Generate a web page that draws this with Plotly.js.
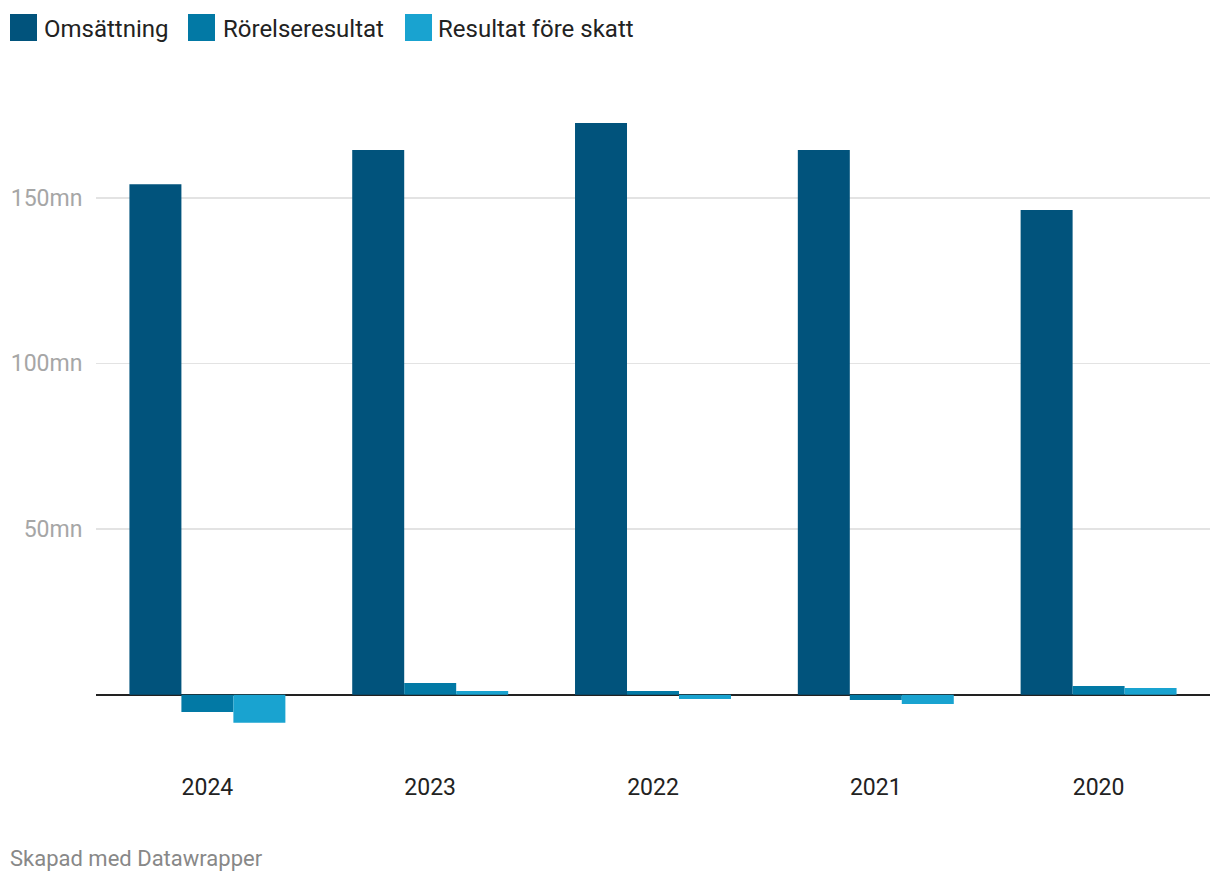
<!DOCTYPE html>
<html>
<head>
<meta charset="utf-8">
<script src="https://cdn.plot.ly/plotly-3.0.1.min.js"></script>
<style>html,body{margin:0;padding:0;background:#fff;}#chart{width:1220px;height:882px;}</style>
</head>
<body>
<div id="chart"></div>
<script>
const years = ['2024', '2023', '2022', '2021', '2020'];
const omsattning = [154.1, 164.4, 172.6, 164.4, 146.3];
const rorelseresultat = [-5.2, 3.5, 1.1, -1.6, 2.6];
const resultatForeSkatt = [-8.5, 1.1, -1.3, -2.8, 2.0];
const seriesNames = ['Omsättning', 'Rörelseresultat', 'Resultat före skatt'];
const colors = ['#01537c', '#0279a5', '#19a3d0'];
const tickVals = [50, 100, 150];
const tickText = ['50mn', '100mn', '150mn'];

const seriesValues = [omsattning, rorelseresultat, resultatForeSkatt];
const traces = seriesValues.map((vals, i) => ({
  type: 'bar', x: years, y: vals, name: seriesNames[i],
  marker: {color: colors[i], line: {width: 0}},
  hoverinfo: 'x+y', showlegend: false
}));

const L = 96, W = 1114, T = 110, H = 630;
const px = x => (x - L) / W;
const py = y => 1 - (y - T) / H;

// legend (custom, pixel-positioned)
const legendItems = [
  {sq: 10, tx: 42},
  {sq: 188, tx: 221},
  {sq: 405, tx: 436}
];
const shapes = legendItems.map((it, i) => ({
  type: 'rect', xref: 'paper', yref: 'paper',
  x0: px(it.sq), x1: px(it.sq + 27), y0: py(41), y1: py(14),
  fillcolor: colors[i], line: {width: 0}
}));
const annotations = legendItems.map((it, i) => ({
  xref: 'paper', yref: 'paper', x: px(it.tx), y: py(29),
  xanchor: 'left', yanchor: 'middle', showarrow: false,
  text: seriesNames[i], font: {family: 'Roboto', size: 24, color: '#222'}
}));
annotations.push({
  xref: 'paper', yref: 'paper', x: px(8), y: py(858),
  xanchor: 'left', yanchor: 'middle', showarrow: false,
  text: 'Skapad med Datawrapper', font: {family: 'Roboto', size: 22, color: '#888'}
});

const layout = {
  width: 1220, height: 882,
  margin: {l: L, r: 1220 - L - W, t: T, b: 882 - T - H},
  paper_bgcolor: '#fff', plot_bgcolor: '#fff',
  font: {family: 'Roboto', color: '#333'},
  barmode: 'group', bargap: 0.3, bargroupgap: 0,
  xaxis: {
    type: 'category', showgrid: false, zeroline: false, showline: false,
    ticks: 'outside', ticklen: 26, tickcolor: 'rgba(0,0,0,0)',
    tickfont: {family: 'Roboto', size: 23, color: '#222'}
  },
  yaxis: {
    range: [-13.67, 176.49], tickmode: 'array', tickvals: tickVals, ticktext: tickText,
    showgrid: true, gridcolor: '#e3e3e3', gridwidth: 1.5,
    zeroline: true, zerolinecolor: '#222', zerolinewidth: 2,
    showline: false, ticks: 'outside', ticklen: 8, tickcolor: 'rgba(0,0,0,0)',
    tickfont: {family: 'Roboto', size: 23, color: '#a6a6a6'}
  },
  shapes: shapes,
  annotations: annotations
};

Plotly.newPlot('chart', traces, layout, {displayModeBar: false, staticPlot: true});
</script>
</body>
</html>
